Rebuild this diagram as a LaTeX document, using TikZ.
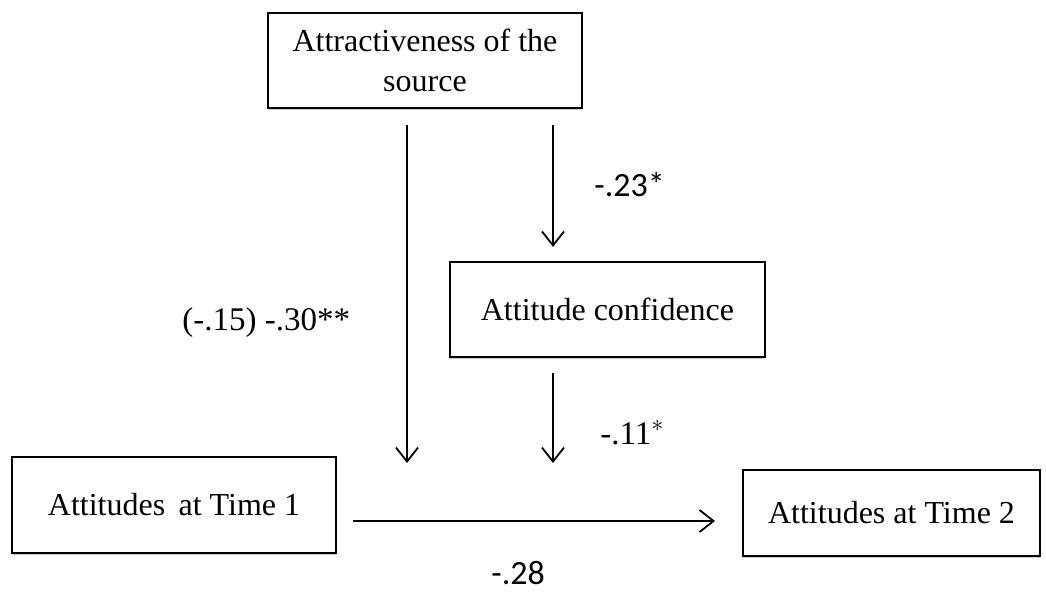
\documentclass[tikz,border=0pt]{standalone}
\usepackage{fontspec}
\setmainfont{Liberation Serif}
\newfontfamily\calib{Carlito}
\usetikzlibrary{arrows.meta,shadows}
\begin{document}
\begin{tikzpicture}[x=0.5pt,y=-0.5pt,
  box/.style={draw=black,line width=1.1pt,fill=white,inner sep=0pt,align=center,
    font=\fontsize{16}{20}\selectfont,
    drop shadow={shadow xshift=0pt,shadow yshift=-1.2pt,fill=black!35,opacity=0.6}},
  arr/.style={line width=0.9pt,-{Straight Barb[length=7pt,width=11pt,line width=0.9pt]}},
  sanslab/.style={font=\calib\fontsize{17}{20}\selectfont,anchor=base west,inner sep=0pt},
  seriflab/.style={font=\fontsize{16.5}{20}\selectfont,anchor=base west,inner sep=0pt}]
\useasboundingbox (0,0) rectangle (1046,591);
\node[box,minimum width=157pt,minimum height=47.5pt] (src) at (425,60.5) {Attractiveness of the\\source};
\node[box,minimum width=157.5pt,minimum height=47.5pt] (conf) at (607.5,309.5) {Attitude confidence};
\node[box,minimum width=162pt,minimum height=48pt] (t1) at (174,505) {Attitudes\, at Time 1};
\node[box,minimum width=148.5pt,minimum height=43pt] (t2) at (891.5,513) {Attitudes at Time 2};
\coordinate (a1s) at (407,125);
\coordinate (a1e) at (407,463);
\coordinate (a2s) at (553,125);
\coordinate (a3e) at (553,463);
\coordinate (hs) at (353,521);
\coordinate (he) at (715,521);
\draw[arr] (a1s) -- (a1e);
\draw[arr] (a2s) -- ([yshift=7pt]a2s |- conf.north);
\draw[arr] ([yshift=-7.5pt]a3e |- conf.south) -- (a3e);
\draw[arr] (hs) -- (he);
\node[sanslab] (l23) at (594,196) {-.23*};
\node[seriflab] (l30) at (182,330) {(-.15) -.30**};
\node[seriflab] (l11) at (600,444) {-.11$^{*}$};
\node[sanslab] (l28) at (491,584) {-.28};
\end{tikzpicture}
\end{document}
